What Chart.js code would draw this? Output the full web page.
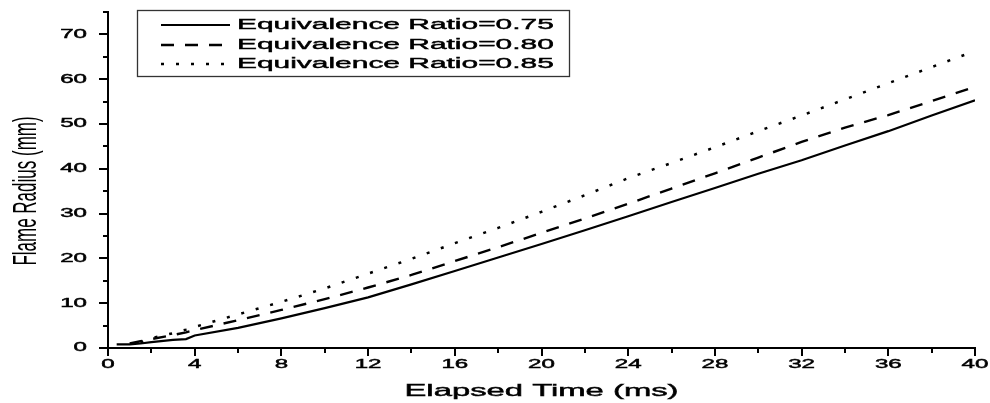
<!DOCTYPE html>
<html lang="en">
<head>
    <meta charset="UTF-8">
    <title>Flame Radius vs Elapsed Time</title>
    <script src="https://cdn.jsdelivr.net/npm/chart.js"></script>
    <style>
        html, body { margin: 0; padding: 0; background: #fff; }
    </style>
</head>
<body>
    <canvas id="flameChart" width="990" height="403"></canvas>

    <script>
        // Elapsed time (ms) shared by all series
        const times = [0.4, 1, 1.5, 2, 3, 3.6, 4, 6, 8, 10, 12, 14, 16, 18, 20, 22, 24, 26, 28, 30, 32, 34, 36, 38, 40];

        // Flame radius (mm), null = no reading yet
        const radius075 = [0.8, 0.8, 1.0, 1.3, 1.8, 2.0, 2.8, 4.5, 6.6, 8.9, 11.3, 14.2, 17.2, 20.2, 23.2, 26.3, 29.4, 32.6, 35.7, 38.9, 41.9, 45.2, 48.4, 51.9, 55.3];
        const radius080 = [null, 1.0, 1.5, 2.0, 2.9, 3.5, 4.0, 6.2, 8.5, 10.9, 13.5, 16.3, 19.4, 22.5, 25.7, 28.9, 32.2, 35.6, 39.0, 42.5, 46.0, 49.2, 52.0, 55.1, 58.3];
        const radius085 = [null, null, 1.2, 2.2, 3.3, 4.1, 4.7, 7.5, 10.3, 13.3, 16.6, 19.9, 23.4, 26.8, 30.4, 34.1, 37.9, 41.3, 44.8, 48.4, 51.9, 55.5, 59.1, 62.7, 66.3];

        const seriesLabels = ['Equivalence Ratio=0.75', 'Equivalence Ratio=0.80', 'Equivalence Ratio=0.85'];

        // Axis ticks
        const xTickLabels = [0, 4, 8, 12, 16, 20, 24, 28, 32, 36, 40];
        const xMinorTicks = [2, 6, 10, 14, 18, 22, 26, 30, 34, 38];
        const yTickLabels = [0, 10, 20, 30, 40, 50, 60, 70];
        const yMinorTicks = [5, 15, 25, 35, 45, 55, 65, 75];

        const FONT = '"Liberation Sans", Arial, sans-serif';
        const STRETCH = 1.93; // the original figure is widened horizontally

        function toPoints(values) {
            return times.map((t, i) => ({ x: t, y: values[i] }));
        }

        function wideText(ctx, text, x, y, align, size) {
            ctx.save();
            ctx.font = size + 'px ' + FONT;
            ctx.textBaseline = 'middle';
            ctx.textAlign = align;
            ctx.fillStyle = '#000';
            ctx.strokeStyle = '#000';
            ctx.lineWidth = 0.45;
            ctx.translate(x, y);
            ctx.scale(STRETCH, 1);
            ctx.fillText(text, 0, 0);
            ctx.strokeText(text, 0, 0);
            ctx.restore();
        }

        // ticks, labels, axis titles and the boxed legend
        const originPlugin = {
            id: 'originLook',
            afterDraw(chart) {
                const ctx = chart.ctx;
                const xs = chart.scales.x;
                const ys = chart.scales.y;
                const area = chart.chartArea;

                ctx.save();
                ctx.strokeStyle = '#000';
                ctx.lineWidth = 2;
                ctx.beginPath();
                xTickLabels.forEach(v => {
                    const px = Math.round(xs.getPixelForValue(v));
                    ctx.moveTo(px, area.bottom); ctx.lineTo(px, area.bottom + 8);
                });
                xMinorTicks.forEach(v => {
                    const px = Math.round(xs.getPixelForValue(v));
                    ctx.moveTo(px, area.bottom); ctx.lineTo(px, area.bottom + 5);
                });
                yTickLabels.forEach(v => {
                    const py = Math.round(ys.getPixelForValue(v));
                    ctx.moveTo(area.left, py); ctx.lineTo(area.left - 9, py);
                });
                yMinorTicks.forEach(v => {
                    const py = Math.round(ys.getPixelForValue(v));
                    ctx.moveTo(area.left, py); ctx.lineTo(area.left - 5, py);
                });
                ctx.stroke();
                ctx.restore();

                xTickLabels.forEach(v => {
                    wideText(ctx, String(v), xs.getPixelForValue(v), area.bottom + 17, 'center', 12.5);
                });
                yTickLabels.forEach(v => {
                    wideText(ctx, String(v), area.left - 21, ys.getPixelForValue(v), 'right', 12.5);
                });

                // axis titles
                wideText(ctx, 'Elapsed Time (ms)', (area.left + area.right) / 2, 391, 'center', 17);

                ctx.save();
                ctx.font = '17px ' + FONT;
                ctx.textAlign = 'center';
                ctx.textBaseline = 'middle';
                ctx.fillStyle = '#000';
                ctx.translate(27, 191);
                ctx.scale(STRETCH, 1);
                ctx.rotate(-Math.PI / 2);
                ctx.fillText('Flame Radius (mm)', 0, 0);
                ctx.restore();

                // legend box
                const box = { left: 137.5, top: 10.5, width: 432, height: 66 };
                ctx.save();
                ctx.fillStyle = '#fff';
                ctx.fillRect(box.left, box.top, box.width, box.height);
                ctx.strokeStyle = '#333';
                ctx.lineWidth = 1.3;
                ctx.strokeRect(box.left, box.top, box.width, box.height);
                ctx.restore();

                const rows = [25, 45, 64];
                chart.data.datasets.forEach((ds, i) => {
                    ctx.save();
                    ctx.strokeStyle = ds.borderColor;
                    ctx.lineWidth = ds.borderWidth;
                    ctx.setLineDash(ds.borderDash || []);
                    ctx.beginPath();
                    ctx.moveTo(161, rows[i]);
                    ctx.lineTo(230, rows[i]);
                    ctx.stroke();
                    ctx.restore();
                    wideText(ctx, ds.label, 237, rows[i], 'left', 15.5);
                });
            }
        };

        new Chart(document.getElementById('flameChart').getContext('2d'), {
            type: 'line',
            data: {
                datasets: [
                    {
                        label: seriesLabels[0],
                        data: toPoints(radius075),
                        borderColor: '#000',
                        borderWidth: 2.2,
                        borderDash: []
                    },
                    {
                        label: seriesLabels[1],
                        data: toPoints(radius080),
                        borderColor: '#000',
                        borderWidth: 2.4,
                        borderDash: [13, 11]
                    },
                    {
                        label: seriesLabels[2],
                        data: toPoints(radius085),
                        borderColor: '#000',
                        borderWidth: 2.5,
                        borderDash: [3, 12]
                    }
                ]
            },
            options: {
                responsive: false,
                animation: false,
                devicePixelRatio: 1,
                layout: { padding: { top: 12, right: 15, left: 0, bottom: 0 } },
                elements: {
                    point: { radius: 0 },
                    line: { tension: 0, fill: false }
                },
                scales: {
                    x: {
                        type: 'linear',
                        min: 0,
                        max: 40,
                        grid: { display: false },
                        border: { display: true, color: '#000', width: 2 },
                        ticks: { display: false },
                        afterFit: s => { s.height = 55; }
                    },
                    y: {
                        type: 'linear',
                        min: 0,
                        max: 75,
                        grid: { display: false },
                        border: { display: true, color: '#000', width: 2 },
                        ticks: { display: false },
                        afterFit: s => { s.width = 108; }
                    }
                },
                plugins: {
                    legend: { display: false },
                    tooltip: { enabled: false }
                }
            },
            plugins: [originPlugin]
        });
    </script>
</body>
</html>
